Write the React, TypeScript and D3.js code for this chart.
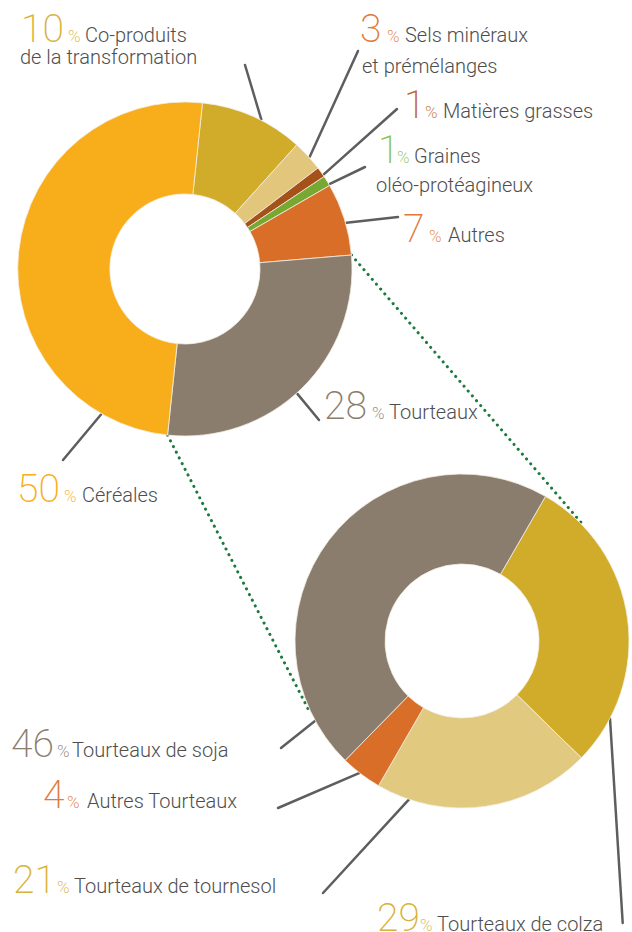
import React from "react";
import * as d3 from "d3";

// ---------- DATA ----------
const mainNumbers = ["10", "3", "1", "1", "7", "28", "50"];
const mainValues = [10, 3, 1, 1, 7, 28, 50];
const mainLine1 = ["Co-produits", "Sels minéraux", "Matières grasses", "Graines", "Autres", "Tourteaux", "Céréales"];
const mainLine2 = ["de la transformation", "et prémélanges", "", "oléo-protéagineux", "", "", ""];

const subNumbers = ["29", "21", "4", "46"];
const subValues = [29, 21, 4, 46];
const subLine1 = ["Tourteaux de colza", "Tourteaux de tournesol", "Autres Tourteaux", "Tourteaux de soja"];

// ---------- STYLES / LAYOUT ----------
const mainColors = ["#D1AC2A", "#E1C67B", "#A4511A", "#77A832", "#D96E29", "#8A7D6D", "#F8AE1B"];
const mainNumColors = ["#D9B23B", "#E07A3A", "#C2661F", "#8BC34A", "#E07A3A", "#8A7D6D", "#F8AE1B"];
const subColors = ["#D1AC2A", "#E1C97F", "#D96E29", "#8A7D6D"];
const subNumColors = ["#D9B23B", "#D9B23B", "#E07A3A", "#8A7D6D"];

const W = 632, H = 932;
const mainCenter = [185, 269];
const subCenter = [462, 641];
const outerR = 167, innerR = 75, subInnerR = 77;
const mainStartDeg = 6;
const subStartDeg = 30;

// label layout: [numX, baseline, pctX, textX, line2X, line2Baseline]
const mainLayout = [
  [21, 42, 68, 85, 20, 64],
  [360, 42, 387, 405, 362, 73],
  [404, 118, 425, 443, 0, 0],
  [378, 163, 397, 414, 376, 192],
  [403, 242, 429, 448, 0, 0],
  [324, 419, 372, 389, 0, 0],
  [17, 502, 64, 82, 0, 0],
];
// leader: [anchor angle deg on donut, endX, endY]
const mainLeaders = [
  [27, 245, 65],
  [48, 358, 51],
  [55.7, 397, 109],
  [59.6, 365, 167],
  [74, 398, 217],
  [138, 319, 420],
  [210, 63, 460],
];
const subLayout = [
  [377, 931, 420, 437],
  [13, 893, 57, 74],
  [43, 808, 67, 87],
  [11, 757, 57, 72],
];
const subLeaders = [
  [117.6, 622.7, 923],
  [198.5, 323, 893],
  [217.8, 278, 808],
  [241.5, 281, 748],
];
// zoom connector end angles on the lower donut
const connectorEnds = [45.2, 245];

const rad = (d: number) => (d * Math.PI) / 180;
const polar = (c: number[], angRad: number, r: number) => [c[0] + r * Math.sin(angRad), c[1] - r * Math.cos(angRad)];

const numFont = "Roboto, 'Open Sans', sans-serif";

export default function App() {
  const mainPie = d3
    .pie<number>()
    .sort(null)
    .value((d) => d)
    .startAngle(rad(mainStartDeg))
    .endAngle(rad(mainStartDeg + 360));
  const subPie = d3
    .pie<number>()
    .sort(null)
    .value((d) => d)
    .startAngle(rad(subStartDeg))
    .endAngle(rad(subStartDeg + 360));

  const mainArcs = mainPie(mainValues);
  const subArcs = subPie(subValues);

  const mainArc = d3.arc<d3.PieArcDatum<number>>().innerRadius(innerR).outerRadius(outerR);
  const subArc = d3.arc<d3.PieArcDatum<number>>().innerRadius(subInnerR).outerRadius(outerR);

  const tourteaux = mainArcs[5];
  const c1a = polar(mainCenter, tourteaux.startAngle, outerR);
  const c1b = polar(subCenter, rad(connectorEnds[0]), outerR + 1);
  const c2a = polar(mainCenter, tourteaux.endAngle, outerR);
  const c2b = polar(subCenter, rad(connectorEnds[1]), outerR + 1);

  const line = d3.line();

  const renderLabel = (
    key: string,
    num: string,
    numColor: string,
    l1: string,
    l2: string,
    lay: number[]
  ) => (
    <g key={key}>
      <text x={lay[0]} y={lay[1]} fill={numColor} fontFamily={numFont} fontWeight={200} fontSize={39}>
        {num}
      </text>
      <text x={lay[2]} y={lay[1]} fill={numColor} fillOpacity={0.85} fontFamily={numFont} fontWeight={300} fontSize={17}>
        %
      </text>
      <text x={lay[3]} y={lay[1]} fill="#4E4E4E" fontFamily={numFont} fontWeight={300} fontSize={20}>
        {l1}
      </text>
      {l2 ? (
        <text x={lay[4]} y={lay[5]} fill="#4E4E4E" fontFamily={numFont} fontWeight={300} fontSize={20}>
          {l2}
        </text>
      ) : null}
    </g>
  );

  return (
    <svg width={W} height={H} style={{ position: "absolute", left: 0, top: 0, background: "#fff" }}>
      {/* dotted connectors */}
      <path
        d={line([c1a as [number, number], c1b as [number, number]]) || ""}
        stroke="#1B7A3C"
        strokeWidth={3}
        strokeDasharray="0.1 6.3"
        strokeLinecap="round"
        fill="none"
      />
      <path
        d={line([c2a as [number, number], c2b as [number, number]]) || ""}
        stroke="#1B7A3C"
        strokeWidth={3}
        strokeDasharray="0.1 6.3"
        strokeLinecap="round"
        fill="none"
      />

      {/* leader lines main */}
      {mainLeaders.map((ld, i) => {
        const s = polar(mainCenter, rad(ld[0]), outerR + 1);
        return (
          <line key={"ml" + i} x1={s[0]} y1={s[1]} x2={ld[1]} y2={ld[2]} stroke="#5E5E5E" strokeWidth={2.5} strokeLinecap="round" />
        );
      })}
      {subLeaders.map((ld, i) => {
        const s = polar(subCenter, rad(ld[0]), outerR);
        return (
          <line key={"sl" + i} x1={s[0]} y1={s[1]} x2={ld[1]} y2={ld[2]} stroke="#5E5E5E" strokeWidth={2.5} strokeLinecap="round" />
        );
      })}

      {/* main donut */}
      <g transform={`translate(${mainCenter[0]},${mainCenter[1]})`}>
        {mainArcs.map((a, i) => (
          <path key={"ma" + i} d={mainArc(a) || ""} fill={mainColors[i]} stroke="#f4eee2" strokeWidth={0.8} />
        ))}
      </g>
      {/* sub donut */}
      <g transform={`translate(${subCenter[0]},${subCenter[1]})`}>
        {subArcs.map((a, i) => (
          <path key={"sa" + i} d={subArc(a) || ""} fill={subColors[i]} stroke="#f4eee2" strokeWidth={0.8} />
        ))}
      </g>

      {/* labels */}
      {mainNumbers.map((n, i) => renderLabel("mlab" + i, n, mainNumColors[i], mainLine1[i], mainLine2[i], mainLayout[i]))}
      {subNumbers.map((n, i) => renderLabel("slab" + i, n, subNumColors[i], subLine1[i], "", subLayout[i]))}
    </svg>
  );
}
